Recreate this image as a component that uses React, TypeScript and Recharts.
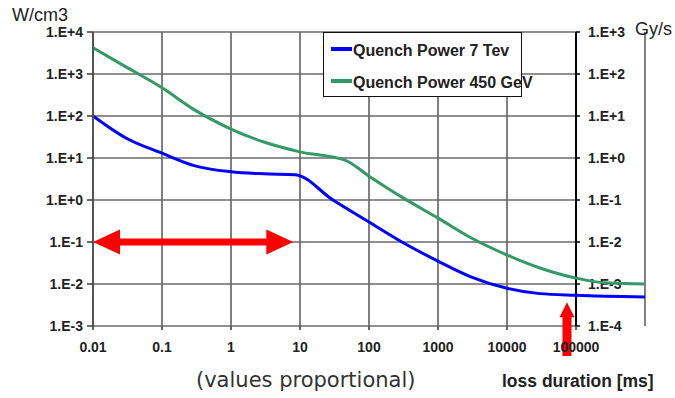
import React from 'react';
import { LineChart, Line, XAxis, YAxis, CartesianGrid, ReferenceLine } from 'recharts';

// loss duration [ms] and quench power [W/cm3]
const DURATION_7TEV = [0.01, 0.03, 0.1, 0.3, 1, 3, 8.5, 30, 100, 300, 1000, 3000, 10000, 30000, 100000, 1000000];
const POWER_7TEV = [100, 30, 13, 6.5, 4.7, 4.2, 4.0, 1.0, 0.3, 0.1, 0.035, 0.0148, 0.0079, 0.0059, 0.0054, 0.0049];

const DURATION_450 = [0.01, 0.03, 0.1, 0.3, 1, 3, 10, 45, 100, 300, 1000, 3000, 10000, 30000, 100000, 300000, 1000000];
const POWER_450 = [4200, 1480, 470, 138, 49, 24, 14, 8.9, 3.7, 1.17, 0.37, 0.126, 0.049, 0.024, 0.0138, 0.0105, 0.01];

const X_TICKS = [0.01, 0.1, 1, 10, 100, 1000, 10000, 100000];
const Y_TICKS = [0.001, 0.01, 0.1, 1, 10, 100, 1000, 10000];
const RIGHT_AXIS_FACTOR = 0.1; // Gy/s = W/cm3 / 10

const SERIES = [
  { name: 'Quench Power 7 Tev', color: '#0000ff', x: DURATION_7TEV, y: POWER_7TEV },
  { name: 'Quench Power 450 GeV', color: '#339966', x: DURATION_450, y: POWER_450 },
];

// annotation arrows (data coordinates)
const RANGE_ARROW = [{ x: 0.01, y: 0.1 }, { x: 8, y: 0.1 }];
const DURATION_ARROW = [{ x: 74000, y: 0.000194 }, { x: 74000, y: 0.0037 }];

const FONT = '"Liberation Sans", Arial, sans-serif';
const GRID = '#6a6a6a';

const sci = (v: number) => {
  const e = Math.round(Math.log10(v));
  return `1.E${e >= 0 ? '+' : '-'}${Math.abs(e)}`;
};

function GridRow(props: any) {
  const { x1, y1, x2, y2, label } = props;
  return (
    <g>
      <line x1={x1} y1={y1} x2={x2} y2={y2} stroke={GRID} strokeWidth={1.7} />
      <line x1={x2} y1={y2} x2={x2 + 4} y2={y2} stroke="#111" strokeWidth={1.6} />
      <text x={x2 + 12} y={y2} dy="0.36em" fill="#222" fontSize={14} fontWeight="bold" fontFamily={FONT}>{label}</text>
    </g>
  );
}

function Arrow(props: any) {
  const { x1, y1, x2, y2, shaft, headLen, headHalf, double } = props;
  const len = Math.hypot(x2 - x1, y2 - y1);
  const ux = (x2 - x1) / len, uy = (y2 - y1) / len;
  const nx = -uy, ny = ux;
  const at = (d: number, o: number) => `${x1 + ux * d + nx * o},${y1 + uy * d + ny * o}`;
  const s = double ? headLen : 0;
  const e = len - headLen;
  const pts = [
    ...(double ? [at(0, 0), at(s, headHalf)] : []),
    at(s, shaft), at(e, shaft), at(e, headHalf), at(len, 0), at(e, -headHalf), at(e, -shaft), at(s, -shaft),
    ...(double ? [at(s, -headHalf)] : []),
  ];
  return <polygon points={pts.join(' ')} fill="#ff0000" />;
}

export default function App() {
  const lines = SERIES.map(s => ({ ...s, data: s.x.map((t, i) => ({ t, p: s.y[i] })) }));
  return (
    <div style={{ position: 'absolute', left: 0, top: 0, width: 675, height: 398, background: '#fff', fontFamily: FONT }}>
      <LineChart width={675} height={398} margin={{ top: 32, right: 30, bottom: 42, left: 0 }}>
        <CartesianGrid horizontal={false} stroke={GRID} strokeWidth={1.7} strokeOpacity={1} />
        <XAxis
          type="number" dataKey="t" scale="log" domain={[0.01, 1000000]} ticks={X_TICKS}
          tickFormatter={(v: number) => String(v)} axisLine={false} tickSize={4} tickMargin={12}
          tickLine={{ stroke: '#444', strokeWidth: 1.6 }} height={30}
          tick={{ fill: '#222', fontSize: 14, fontWeight: 'bold', fontFamily: FONT }}
        />
        <YAxis
          type="number" dataKey="p" scale="log" domain={[0.001, 10000]} ticks={Y_TICKS} width={93}
          tickFormatter={sci} tickSize={6} tickMargin={4}
          axisLine={{ stroke: '#555', strokeWidth: 2 }} tickLine={{ stroke: '#444', strokeWidth: 1.6 }}
          tick={{ fill: '#222', fontSize: 14, fontWeight: 'bold', fontFamily: FONT }}
        />
        {Y_TICKS.map(v => (
          <ReferenceLine
            key={v}
            segment={[{ x: X_TICKS[0], y: v }, { x: X_TICKS[X_TICKS.length - 1], y: v }]}
            shape={(p: any) => <GridRow {...p} label={sci(v * RIGHT_AXIS_FACTOR)} />}
          />
        ))}
        <ReferenceLine x={X_TICKS[X_TICKS.length - 1]} stroke="#000" strokeWidth={2} />
        {lines.map(s => (
          <Line
            key={s.name} data={s.data} dataKey="p" name={s.name} type="monotone"
            stroke={s.color} strokeWidth={3} dot={false} activeDot={false} isAnimationActive={false}
          />
        ))}
        <ReferenceLine
          segment={RANGE_ARROW} ifOverflow="visible"
          shape={(p: any) => <Arrow {...p} shaft={3.5} headLen={27} headHalf={12.5} double />}
        />
        <ReferenceLine
          segment={DURATION_ARROW} ifOverflow="visible"
          shape={(p: any) => <Arrow {...p} shaft={4.5} headLen={15} headHalf={7.5} />}
        />
      </LineChart>

      {/* legend */}
      <div style={{ position: 'absolute', left: 323, top: 32, width: 199, height: 65, boxSizing: 'border-box', border: '1.5px solid #111', background: '#fff' }} />
      {SERIES.map((s, i) => (
        <React.Fragment key={s.name}>
          <div style={{ position: 'absolute', left: 331, top: 47 + i * 32, width: 21, height: 4, background: s.color }} />
          <div style={{ position: 'absolute', left: 353, top: 42.5 + i * 32.5, fontSize: 16, lineHeight: '16px', fontWeight: 'bold', color: '#222', whiteSpace: 'nowrap' }}>{s.name}</div>
        </React.Fragment>
      ))}

      <div style={{ position: 'absolute', left: 12, top: 6, fontSize: 18, lineHeight: '18px', color: '#222' }}>W/cm3</div>
      <div style={{ position: 'absolute', left: 635, top: 20, fontSize: 18, lineHeight: '18px', color: '#222' }}>Gy/s</div>
      <div style={{ position: 'absolute', left: 196, top: 370, fontSize: 21, lineHeight: '21px', color: '#333', fontFamily: '"DejaVu Sans", Verdana, sans-serif', whiteSpace: 'nowrap' }}>(values proportional)</div>
      <div style={{ position: 'absolute', left: 502, top: 373, fontSize: 17.5, lineHeight: '17.5px', fontWeight: 'bold', color: '#222', whiteSpace: 'nowrap' }}>loss duration [ms]</div>
    </div>
  );
}
